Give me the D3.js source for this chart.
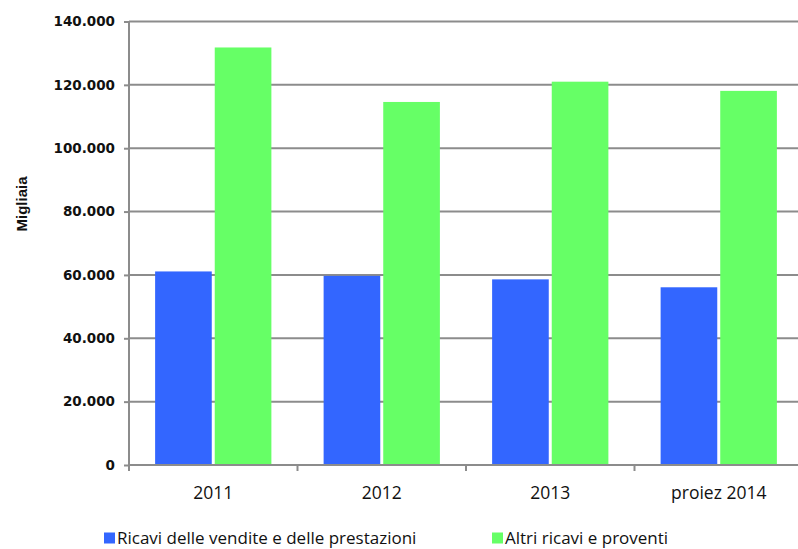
<!DOCTYPE html>
<html>
<head>
<meta charset="utf-8">
<script src="https://cdn.jsdelivr.net/npm/d3@7"></script>
<style>
  body { margin: 0; background: #fff; }
  svg { display: block; }
</style>
</head>
<body>
<svg width="798" height="549"></svg>
<script>
// data
const categories = ['2011', '2012', '2013', 'proiez 2014'];
const seriesNames = ['Ricavi delle vendite e delle prestazioni', 'Altri ricavi e proventi'];
const ricavi = [61100, 59700, 58600, 56100];
const altri = [131800, 114600, 121000, 118100];
const yTicks = [0, 20000, 40000, 60000, 80000, 100000, 120000, 140000];
const colors = ['#3366ff', '#66ff66'];

const svg = d3.select('svg');
const margin = { left: 129, top: 21.5, right: -5, bottom: 84 };
const width = 798 - margin.left - margin.right;
const height = 549 - margin.top - margin.bottom;

const g = svg.append('g').attr('transform', `translate(${margin.left},${margin.top})`);

const x = d3.scaleBand().domain(categories).range([0, width]).paddingInner(0.31).paddingOuter(0.155);
const xInner = d3.scaleBand().domain([0, 1]).range([0, x.bandwidth()]).paddingInner(0.05);
const y = d3.scaleLinear().domain([0, 140000]).range([height, 0]);

const fmt = v => d3.format(',')(v).replace(/,/g, '.');

// gridlines
g.append('g')
    .selectAll('line')
    .data(yTicks.slice(1))
    .enter()
    .append('line')
    .attr('x1', 0)
    .attr('x2', width)
    .attr('y1', d => y(d))
    .attr('y2', d => y(d))
    .style('stroke', '#8c8c8c')
    .style('stroke-width', '2px');

// bars
const rows = categories.map((c, i) => ({ cat: c, vals: [ricavi[i], altri[i]] }));
const groups = g.append('g')
    .selectAll('g')
    .data(rows)
    .enter()
    .append('g')
    .attr('transform', d => `translate(${x(d.cat)},0)`);
groups.selectAll('rect')
    .data(d => d.vals)
    .enter()
    .append('rect')
    .attr('x', (d, i) => xInner(i))
    .attr('width', xInner.bandwidth())
    .attr('y', d => y(d))
    .attr('height', d => height - y(d))
    .style('fill', (d, i) => colors[i]);

// y axis
const yAxis = g.append('g')
    .call(d3.axisLeft(y).tickValues(yTicks).tickFormat(fmt).tickSize(5).tickPadding(9));
yAxis.select('.domain').remove();
yAxis.selectAll('.tick line').style('stroke', '#8c8c8c').style('stroke-width', '2px');
yAxis.selectAll('text')
    .style('font-family', '"DejaVu Sans", sans-serif')
    .style('font-weight', 'bold')
    .style('font-size', '13.5px')
    .style('fill', '#111');
g.append('line')
    .attr('x1', 0).attr('x2', 0)
    .attr('y1', 0).attr('y2', height + 6)
    .style('stroke', '#8c8c8c')
    .style('stroke-width', '2px');

// x axis
g.append('line')
    .attr('x1', 0).attr('x2', width)
    .attr('y1', height).attr('y2', height)
    .style('stroke', '#8c8c8c')
    .style('stroke-width', '2px');
const step = x.step();
g.append('g')
    .selectAll('line')
    .data(categories.slice(1))
    .enter()
    .append('line')
    .attr('x1', (d, i) => (i + 1) * step)
    .attr('x2', (d, i) => (i + 1) * step)
    .attr('y1', height)
    .attr('y2', height + 6)
    .style('stroke', '#8c8c8c')
    .style('stroke-width', '2px');
g.append('g')
    .selectAll('text')
    .data(categories)
    .enter()
    .append('text')
    .attr('x', d => x(d) + x.bandwidth() / 2)
    .attr('y', height + 34)
    .attr('text-anchor', 'middle')
    .style('font-family', '"Open Sans", sans-serif')
    .style('font-size', '17.5px')
    .style('fill', '#111')
    .text(d => d);

// y title
svg.append('text')
    .attr('transform', 'translate(27,204) rotate(-90)')
    .attr('text-anchor', 'middle')
    .style('font-family', '"Liberation Sans", Arial, sans-serif')
    .style('font-weight', 'bold')
    .style('font-size', '15px')
    .style('fill', '#111')
    .text('Migliaia');

// legend
const legendX = [104, 492];
const legend = svg.append('g')
    .selectAll('g')
    .data(seriesNames)
    .enter()
    .append('g')
    .attr('transform', (d, i) => `translate(${legendX[i]},532.5)`);
legend.append('rect')
    .attr('width', 11).attr('height', 11)
    .style('fill', (d, i) => colors[i]);
legend.append('text')
    .attr('x', 13)
    .attr('y', 11)
    .style('font-family', '"Open Sans", sans-serif')
    .style('font-size', '17px')
    .style('fill', '#111')
    .text(d => d);
</script>
</body>
</html>
